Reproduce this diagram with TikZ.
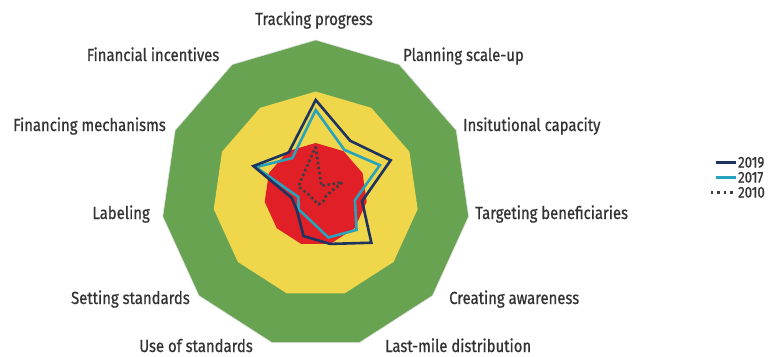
\documentclass[tikz,border=0pt]{standalone}
\usepackage{fontspec}
\setmainfont{Fira Sans}[FakeStretch=0.85, FakeBold=0.7]
\definecolor{cgreen}{HTML}{68A352}
\definecolor{cyellow}{HTML}{EFD64A}
\definecolor{cred}{HTML}{E01F26}
\definecolor{cnavy}{HTML}{1D3461}
\definecolor{cteal}{HTML}{28A3BB}
\definecolor{cdot}{HTML}{3D3D45}
\definecolor{ctext}{HTML}{333333}
\tikzset{
  lbl/.style={font=\fontsize{17.5}{19}\selectfont, text=ctext, inner sep=0pt},
  leg/.style={font=\fontsize{15.5}{16}\selectfont, text=ctext, inner sep=0pt, text height=10.5pt, text depth=0pt},
  s2019/.style={draw=cnavy, line width=2.6pt},
  s2017/.style={draw=cteal, line width=2.6pt},
  s2010/.style={draw=cdot, line width=2.6pt, dash pattern=on 2.5pt off 2.6pt},
}
\begin{document}
\begin{tikzpicture}[x=1pt,y=1pt]
\useasboundingbox (0,0) rectangle (778,-356);
\fill[white] (0,0) rectangle (778,-356);
\begin{scope}[shift={(315.7,-194.5)}]
  \def\U{51.5}
  % background bands
  \fill[cgreen, draw=black!12, line width=0.6pt] (90:3*\U) \foreach \k in {1,...,10} { -- ({90-\k*360/11}:3*\U) } -- cycle;
  \fill[cyellow] (90:2*\U) \foreach \k in {1,...,10} { -- ({90-\k*360/11}:2*\U) } -- cycle;
  \fill[cred] (90:\U) \foreach \k in {1,...,10} { -- ({90-\k*360/11}:\U) } -- cycle;
  % data points
  \foreach \v [count=\i from 0] in {0.93,0.2,0.57,0.2,0.2,0.2,0.11,0.1,0.12,0.37,0.45}
    \coordinate (c\i) at ({90-\i*360/11}:{\v*\U});
  \foreach \v [count=\i from 0] in {1.64,1.03,1.37,0.77,1.05,0.87,0.49,0.44,0.34,1.28,0.84}
    \coordinate (b\i) at ({90-\i*360/11}:{\v*\U});
  \foreach \v [count=\i from 0] in {1.835,1.24,1.60,0.91,1.43,1.0,0.84,0.48,0.47,1.33,0.97}
    \coordinate (a\i) at ({90-\i*360/11}:{\v*\U});
  \draw[s2010] (c0) -- (c1) -- (c2) -- (c3) -- (c4) -- (c5) -- (c6) -- (c7) -- (c8) -- (c9) -- (c10) -- cycle;
  \draw[s2017] (b0) -- (b1) -- (b2) -- (b3) -- (b4) -- (b5) -- (b6) -- (b7) -- (b8) -- (b9) -- (b10) -- cycle;
  \draw[s2019] (a0) -- (a1) -- (a2) -- (a3) -- (a4) -- (a5) -- (a6) -- (a7) -- (a8) -- (a9) -- (a10) -- cycle;
\end{scope}
% axis labels
\node[lbl, anchor=base] (l0) at (314,-25) {Tracking progress};
\node[lbl, anchor=base west] (l1) at (403,-61) {Planning scale-up};
\node[lbl, anchor=base west] (l2) at (463,-131) {Insitutional capacity};
\node[lbl, anchor=base west] (l3) at (475,-219) {Targeting beneficiaries};
\node[lbl, anchor=base west] (l4) at (449,-304) {Creating awareness};
\node[lbl, anchor=base west] (l5) at (385,-352) {Last-mile distribution};
\node[lbl, anchor=base east] (l6) at (253,-352) {Use of standards};
\node[lbl, anchor=base east] (l7) at (190,-304) {Setting standards};
\node[lbl, anchor=base east] (l8) at (150,-219) {Labeling};
\node[lbl, anchor=base east] (l9) at (166,-131) {Financing mechanisms};
\node[lbl, anchor=base east] (l10) at (219.5,-61) {Financial incentives};
% legend
\coordinate (g1a) at (716,-162.5); \coordinate (g1b) at (736,-162.5);
\coordinate (g2a) at (716,-177.5); \coordinate (g2b) at (736,-177.5);
\coordinate (g3a) at (711,-192.5); \coordinate (g3b) at (736,-192.5);
\draw[cnavy, line width=2.6pt] (g1a) -- (g1b);
\draw[cteal, line width=2.6pt] (g2a) -- (g2b);
\draw[cdot, line width=2.4pt, dash pattern=on 2.4pt off 4pt] (g3a) -- (g3b);
\node[leg, anchor=base west] (t1) at (738,-167.5) {2019};
\node[leg, anchor=base west] (t2) at (738,-182.5) {2017};
\node[leg, anchor=base west] (t3) at (738,-197.5) {2010};
\end{tikzpicture}
\end{document}
